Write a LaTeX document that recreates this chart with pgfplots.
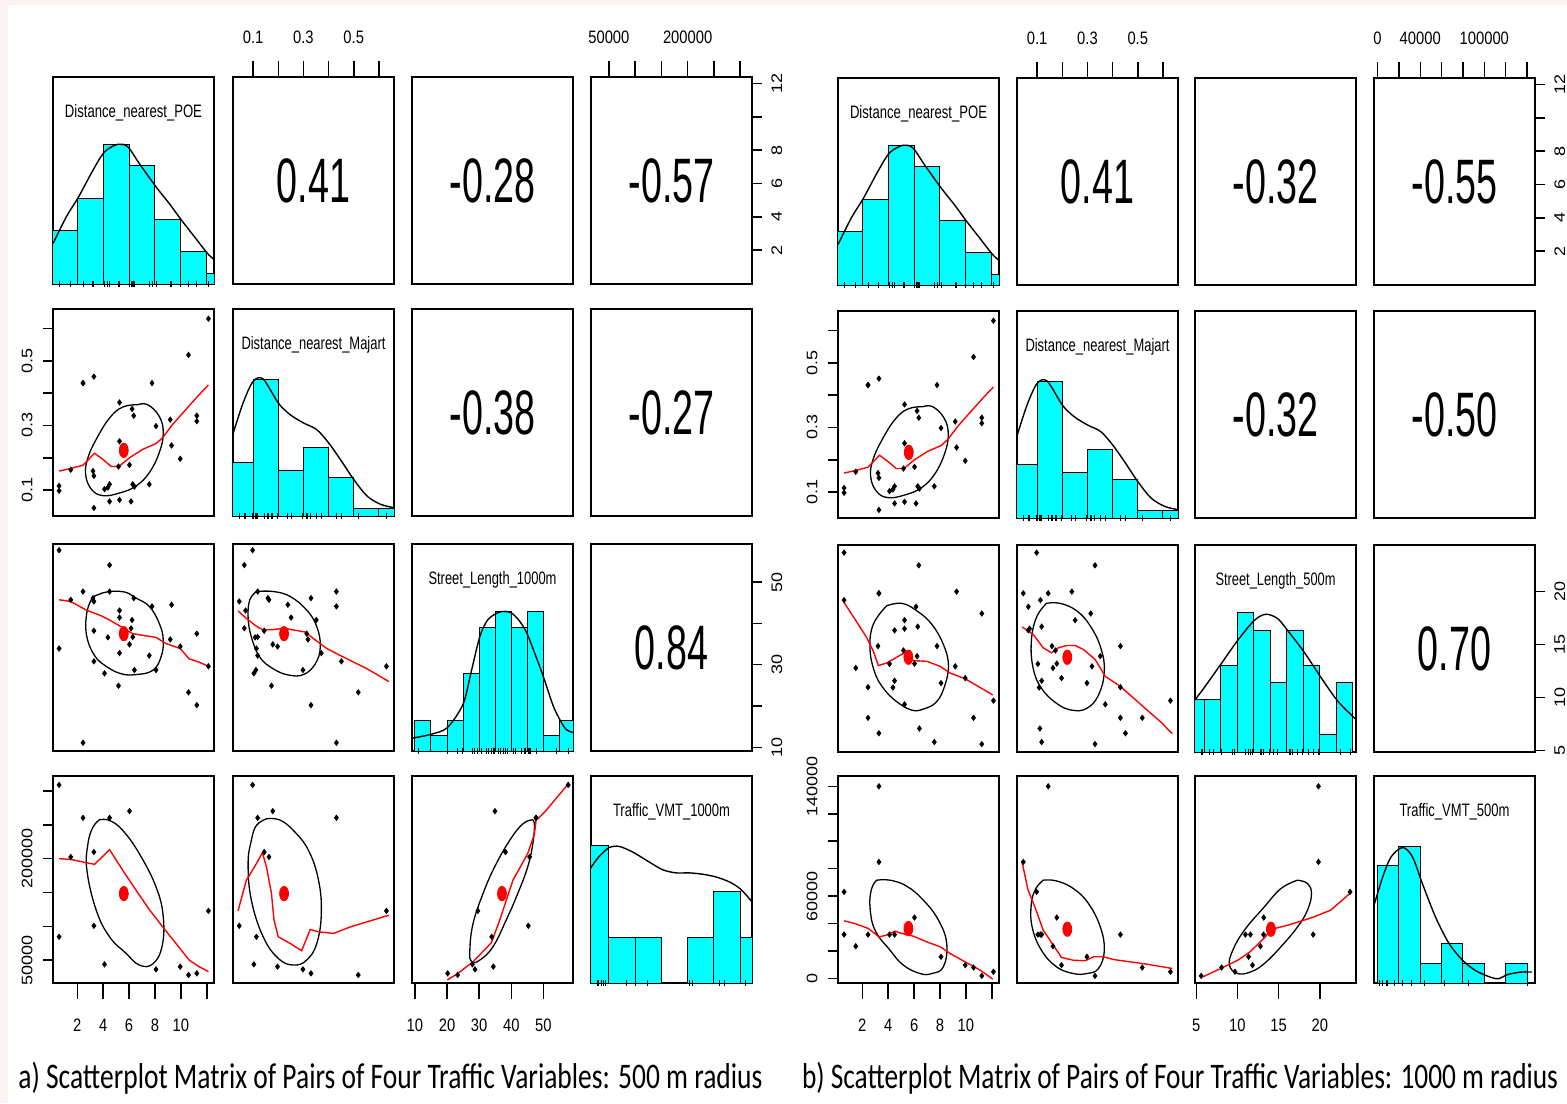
\documentclass[border=0pt]{standalone}
\usepackage{fontspec}
\setmainfont{Liberation Sans}
\newfontfamily\calib{Carlito}
\usepackage{pgfplots}
\usepackage{pgfplotstable}
\pgfplotsset{compat=1.18}
\definecolor{bgpink}{RGB}{252,244,242}
\definecolor{histc}{RGB}{0,255,255}
\newcommand\tickfont{\fontsize{9}{10}\selectfont}
\newcommand\tkl[1]{\scalebox{0.82}[1]{#1}}
\newcommand\tlv[1]{\scalebox{1}[0.85]{#1}}
\newcommand\corr[1]{\fontsize{31.4}{32}\selectfont\scalebox{0.6}[1]{#1}}
\newcommand\diag[2]{\resizebox{#1}{\height}{\fontsize{9}{10}\selectfont #2}}

\pgfplotstableread{
V1 V2 V3 V4 S5 T5
12.13 0.630 29.6 122800 9.70 4900
10.59 0.518 23.3 27900 8.08 8000
2.44 0.431 47.7 260600 10.97 32000
2.44 0.431 11.1 nan 8.08 nan
3.28 0.451 30.8 nan 6.62 nan
7.77 0.431 44.1 nan 14.85 nan
5.26 0.371 32.8 nan 9.35 nan
6.23 0.351 40.8 nan 13.90 nan
6.36 0.330 46.1 nan 22.48 nan
8.08 0.298 28.7 36200 11.36 15800
9.18 0.318 36.1 nan 12.94 nan
11.23 0.330 20.2 30300 5.60 1900
11.23 0.313 37.5 nan 17.93 nan
5.26 0.251 41.4 nan 17.30 nan
9.28 0.238 44.5 nan 20.00 nan
9.95 0.197 34.4 40200 11.83 9700
6.03 0.178 34.9 270500 13.20 44400
5.18 0.173 24.9 nan 14.44 nan
1.49 0.163 45.7 202600 12.79 23500
3.21 0.159 46.1 nan 14.85 nan
3.28 0.144 38.2 209900 19.84 140000
0.59 0.113 33.9 84400 19.20 32000
0.59 0.098 57.7 309300 23.68 63100
4.49 0.118 47.7 260600 11.58 32000
4.36 0.108 36.6 nan 10.94 nan
4.10 0.103 27.9 43600 13.17 32000
6.28 0.118 36.7 nan 16.69 nan
6.41 0.111 28.7 nan 7.07 nan
7.56 0.118 32.2 nan 5.79 nan
3.28 0.045 45.3 100700 19.84 84900
4.49 0.065 54.1 nan 16.34 nan
5.26 0.070 43.1 nan 16.50 nan
6.15 0.065 38.8 nan 18.57 nan
}\tabD

\pgfplotsset{
  cell/.style 2 args={at={({#1*0.5pt},{-#2*0.5pt})}, anchor=north west, scale only axis,
    width=80.5pt, height=103.5pt, xtick=\empty, ytick=\empty,
    axis line style={line width=0.75pt}, tick align=outside,
    tick style={black, line width=0.75pt}, scaled ticks=false, clip=true},
  V1x/.style={xmin=0.12,xmax=12.56}, V1y/.style={ymin=-0.04,ymax=12.4},
  V2x/.style={xmin=0.02,xmax=0.66}, V2y/.style={ymin=0.02,ymax=0.66},
  V3x/.style={xmin=9.1,xmax=59.2}, V3y/.style={ymin=9.1,ymax=59.2},
  V4x/.style={xmin=16000,xmax=322500}, V4y/.style={ymin=16000,ymax=322500},
  S5x/.style={xmin=4.85,xmax=24.4}, S5y/.style={ymin=4.85,ymax=24.4},
  T5x/.style={xmin=-3300,xmax=147500}, T5y/.style={ymin=-3300,ymax=147500},
  topx/.style={xtick pos=right, xticklabel pos=right, major tick length=8pt,
    xticklabel style={font=\tickfont, inner sep=0pt, anchor=south}, xticklabel shift=8.5pt},
  botx/.style={xtick pos=left, xticklabel pos=left, major tick length=8pt,
    xticklabel style={font=\tickfont, inner sep=0pt, anchor=north}, xticklabel shift=10pt},
  lefty/.style={ytick pos=left, yticklabel pos=left, major tick length=5pt,
    yticklabel style={font=\tickfont, inner sep=0pt, rotate=90, anchor=south}, yticklabel shift=5pt},
  righty/.style={ytick pos=right, yticklabel pos=right, major tick length=5pt,
    yticklabel style={font=\tickfont, inner sep=0pt, rotate=90, anchor=north}, yticklabel shift=4.5pt},
  pts/.style={only marks, mark=diamond*, mark size=1.3pt, black},
  lo/.style={red, line width=0.7pt},
  ell/.style={black, line width=0.65pt, smooth, tension=0.7},
  mn/.style={only marks, mark=*, mark size=3.6pt, red, mark options={xscale=0.62}},
  hbar/.style={ybar interval, fill=histc, draw=black, line width=0.5pt},
  dens/.style={black, line width=0.7pt, smooth},
  rug/.style={only marks, mark=|, mark size=1.6pt, black, line width=0.5pt},
}

\begin{document}
\begin{tikzpicture}
\fill[bgpink] (0,0) rectangle (783.5pt,-551.5pt);
\fill[white] (4pt,-2.5pt) rectangle (783.5pt,-551.5pt);
\useasboundingbox (0,0) rectangle (783.5pt,-551.5pt);

%================ LEFT PANEL ================
% (1,1)
\begin{axis}[cell={53}{77}, V1x, ymin=0, ymax=19.26]
\addplot[hbar] coordinates {(0,5)(2,8)(4,13)(6,11)(8,6)(10,3)(12,1)(14,1)};
\addplot[dens] coordinates {(0.13,3.78)(1.15,6.25)(2.10,8.11)(3.21,10.59)(4.10,12.29)(5.13,13.0)(5.90,12.76)(6.79,11.21)(8.08,9.04)(9.10,7.49)(10.05,5.94)(11.15,4.24)(12.05,2.85)(12.56,2.29)};
\addplot[rug] table[x=V1, y expr=0] {\tabD};
\node at (rel axis cs:0.5,0.825) {\diag{68.5pt}{Distance\_nearest\_POE}};
\end{axis}
% (1,2)
\begin{axis}[cell={233}{77}, V2x, V1y, topx, xtick={0.1,0.2,0.3,0.4,0.5,0.6}, xticklabels={\tkl{0.1},,\tkl{0.3},,\tkl{0.5},}]
\node at (rel axis cs:0.5,0.5) {\corr{0.41}};
\end{axis}
% (1,3)
\begin{axis}[cell={412}{77}, xmin=0, xmax=1, ymin=0, ymax=1]
\node at (rel axis cs:0.5,0.5) {\corr{-0.28}};
\end{axis}
% (1,4)
\begin{axis}[cell={591}{77}, V4x, V1y, topx, xtick={50000,100000,150000,200000,250000,300000}, xticklabels={\tkl{50000},,,\tkl{200000},,}]
\node at (rel axis cs:0.5,0.5) {\corr{-0.57}};
\end{axis}
\begin{axis}[cell={591}{77}, V4x, V1y, righty, ytick={2,4,6,8,10,12}, yticklabels={\tlv{2},\tlv{4},\tlv{6},\tlv{8},,\tlv{12}}]
\end{axis}
% (2,1)
\begin{axis}[cell={53}{309}, V1x, V2y, lefty, ytick={0.1,0.2,0.3,0.4,0.5,0.6}, yticklabels={\tlv{0.1},,\tlv{0.3},,\tlv{0.5},}]
\addplot[pts] table[x=V1, y=V2] {\tabD};
\addplot[ell] coordinates {(6.67,0.364)(7.44,0.364)(8.33,0.328)(8.64,0.277)(8.33,0.216)(7.56,0.154)(6.54,0.113)(5.26,0.091)(3.97,0.083)(3.08,0.103)(2.64,0.149)(2.82,0.200)(3.46,0.257)(4.49,0.323)(5.51,0.357)(6.67,0.364)};
\addplot[lo] coordinates {(0.59,0.159)(1.49,0.167)(2.44,0.177)(3.33,0.214)(3.97,0.195)(4.62,0.173)(5.21,0.173)(6.03,0.200)(7.05,0.226)(8.08,0.244)(8.59,0.262)(9.36,0.303)(10.38,0.349)(11.41,0.395)(12.13,0.425)};
\addplot[mn] coordinates {(5.59,0.223)};
\end{axis}
% (2,2)
\begin{axis}[cell={233}{309}, V2x, ymin=0, ymax=27.2]
\addplot[hbar] coordinates {(0,7)(0.1,18)(0.2,6)(0.3,9)(0.4,5)(0.5,1)(0.6,1)(0.7,1)};
\addplot[dens] coordinates {(0.017,10.48)(0.06,14.85)(0.10,17.69)(0.14,17.99)(0.20,14.85)(0.247,13.32)(0.30,12.23)(0.353,11.35)(0.40,9.61)(0.447,7.42)(0.50,4.80)(0.553,2.62)(0.607,1.53)(0.66,1.09)};
\addplot[rug] table[x=V2, y expr=0] {\tabD};
\node at (rel axis cs:0.5,0.825) {\diag{72pt}{Distance\_nearest\_Majart}};
\end{axis}
% (2,3)
\begin{axis}[cell={412}{309}, xmin=0, xmax=1, ymin=0, ymax=1]
\node at (rel axis cs:0.5,0.5) {\corr{-0.38}};
\end{axis}
% (2,4)
\begin{axis}[cell={591}{309}, xmin=0, xmax=1, ymin=0, ymax=1]
\node at (rel axis cs:0.5,0.5) {\corr{-0.27}};
\end{axis}
% (3,1)
\begin{axis}[cell={53}{544}, V1x, V3y]
\addplot[pts] table[x=V1, y=V3] {\tabD};
\addplot[ell] coordinates {(4.49,47.7)(5.64,47.6)(6.54,46.1)(7.56,44.1)(8.33,40.0)(8.64,35.9)(8.46,31.8)(7.82,28.6)(6.54,27.6)(5.38,27.8)(4.23,29.6)(3.33,32.2)(2.74,36.7)(2.69,41.6)(3.08,45.7)(3.72,47.1)(4.49,47.7)};
\addplot[lo] coordinates {(0.59,45.7)(1.49,45.3)(2.69,43.2)(3.72,42.0)(4.49,40.8)(5.59,38.8)(6.28,37.5)(7.05,37.1)(8.08,36.6)(8.85,35.1)(9.95,33.9)(10.64,31.4)(11.41,30.6)(12.13,29.6)};
\addplot[mn] coordinates {(5.59,37.5)};
\end{axis}
% (3,2)
\begin{axis}[cell={233}{544}, V2x, V3y]
\addplot[pts] table[x=V2, y=V3] {\tabD};
\addplot[ell] coordinates {(0.113,47.7)(0.18,47.7)(0.247,46.5)(0.313,43.2)(0.353,39.2)(0.367,34.3)(0.347,30.2)(0.30,27.6)(0.24,27.5)(0.18,29.0)(0.127,31.8)(0.093,36.7)(0.08,41.6)(0.087,45.7)(0.113,47.7)};
\addplot[lo] coordinates {(0.04,43.0)(0.073,41.2)(0.113,39.3)(0.14,38.4)(0.18,38.5)(0.223,38.8)(0.26,38.4)(0.307,37.9)(0.34,36.3)(0.393,33.9)(0.447,32.2)(0.50,30.6)(0.553,29.0)(0.64,25.9)};
\addplot[mn] coordinates {(0.223,37.5)};
\end{axis}
% (3,3)
\begin{axis}[cell={412}{544}, V3x, ymin=0, ymax=13.4]
\addplot[hbar] coordinates {(10,2)(15,1)(20,2)(25,5)(30,8)(35,9)(40,8)(45,9)(50,1)(55,2)(60,2)};
\addplot[dens] coordinates {(9.17,0.83)(15.17,1.09)(20.13,1.52)(25.0,3.04)(27.6,5.2)(30.2,7.4)(32.7,8.5)(36.4,9.0)(39.8,8.96)(42.6,8.4)(44.9,7.6)(47.7,6.1)(50.0,4.8)(52.9,3.0)(55.0,2.07)(57.0,1.41)(59.1,1.2)};
\addplot[rug] table[x=V3, y expr=0] {\tabD};
\node at (rel axis cs:0.5,0.825) {\diag{64pt}{Street\_Length\_1000m}};
\end{axis}
% (3,4)
\begin{axis}[cell={591}{544}, xmin=0, xmax=1, V3y, righty, ytick={10,20,30,40,50}, yticklabels={\tlv{10},,\tlv{30},,\tlv{50}}]
\node at (rel axis cs:0.5,0.5) {\corr{0.84}};
\end{axis}
% (4,1)
\begin{axis}[cell={53}{776}, V1x, V4y, botx, xtick={2,4,6,8,10,12}, xticklabels={\tkl{2},\tkl{4},\tkl{6},\tkl{8},\tkl{10},}]
\addplot[pts] table[x=V1, y=V4] {\tabD};
\addplot[ell] coordinates {(3.72,257700)(4.49,256700)(5.51,241900)(6.79,207500)(8.08,158300)(8.64,114000)(8.54,69700)(7.82,44100)(6.79,42600)(5.77,59800)(4.49,84400)(3.46,123800)(2.74,182900)(2.82,222200)(3.21,246800)(3.72,257700)};
\addplot[lo] coordinates {(0.59,200100)(1.49,199100)(2.44,195200)(3.33,191700)(4.49,213400)(5.51,182900)(6.54,153300)(7.56,124800)(8.59,99200)(9.62,74600)(10.64,50000)(11.41,40200)(12.13,32800)};
\addplot[mn] coordinates {(5.59,148400)};
\end{axis}
\begin{axis}[cell={53}{776}, V1x, V4y, lefty, ytick={50000,100000,150000,200000,250000,300000}, yticklabels={\tlv{50000},,,\tlv{200000},,}]
\end{axis}
% (4,2)
\begin{axis}[cell={233}{776}, V2x, V4y]
\addplot[pts] table[x=V2, y=V4] {\tabD};
\addplot[ell] coordinates {(0.153,259100)(0.204,257700)(0.26,241900)(0.32,212400)(0.36,168100)(0.371,118900)(0.353,74600)(0.313,50000)(0.26,42600)(0.20,52500)(0.14,84400)(0.093,138600)(0.08,192700)(0.093,227200)(0.113,249300)(0.153,259100)};
\addplot[lo] coordinates {(0.04,122800)(0.073,168100)(0.113,192700)(0.137,208900)(0.153,187800)(0.173,148400)(0.183,109100)(0.20,84400)(0.247,74600)(0.293,63800)(0.327,95300)(0.36,91800)(0.42,89400)(0.487,99200)(0.553,106600)(0.64,116400)};
\addplot[mn] coordinates {(0.223,148400)};
\end{axis}
% (4,3)
\begin{axis}[cell={412}{776}, V3x, V4y, botx, xtick={10,20,30,40,50}, xticklabels={\tkl{10},\tkl{20},\tkl{30},\tkl{40},\tkl{50}}]
\addplot[pts] table[x=V3, y=V4] {\tabD};
\addplot[ell] coordinates {(46.7,257700)(47.2,249300)(46.7,222200)(45.1,187800)(42.0,148400)(38.4,109100)(34.3,69700)(30.2,50000)(27.6,47500)(27.1,64800)(28.1,104100)(31.2,148400)(34.8,187800)(39.5,227200)(43.6,251700)(46.7,257700)};
\addplot[lo] coordinates {(20.1,20500)(23.4,30300)(28.1,47500)(33.8,75600)(36.4,109100)(40.5,168100)(45.1,207500)(47.2,237000)(47.7,256700)(50.8,271400)(57.3,308400)};
\addplot[mn] coordinates {(37.1,148400)};
\end{axis}
% (4,4)
\begin{axis}[cell={591}{776}, V4x, ymin=0, ymax=4.53]
\addplot[hbar] coordinates {(0,3)(50000,1)(100000,1)(150000,0)(200000,1)(250000,2)(300000,1)(350000,1)};
\addplot[dens] coordinates {(13600,2.49)(30800,2.76)(50000,2.96)(69200,2.99)(94700,2.87)(126600,2.65)(152200,2.48)(177700,2.41)(203300,2.41)(228800,2.38)(254300,2.32)(279900,2.21)(299000,2.07)(315000,1.88)(322700,1.77)};
\addplot[rug] table[x=V4, y expr=0] {\tabD};
\node at (rel axis cs:0.5,0.825) {\diag{58.5pt}{Traffic\_VMT\_1000m}};
\end{axis}

%================ RIGHT PANEL ================
% (1,1)
\begin{axis}[cell={838}{78}, V1x, ymin=0, ymax=19.26]
\addplot[hbar] coordinates {(0,5)(2,8)(4,13)(6,11)(8,6)(10,3)(12,1)(14,1)};
\addplot[dens] coordinates {(0.13,3.78)(1.15,6.25)(2.10,8.11)(3.21,10.59)(4.10,12.29)(5.13,13.0)(5.90,12.76)(6.79,11.21)(8.08,9.04)(9.10,7.49)(10.05,5.94)(11.15,4.24)(12.05,2.85)(12.56,2.29)};
\addplot[rug] table[x=V1, y expr=0] {\tabD};
\node at (rel axis cs:0.5,0.825) {\diag{68.5pt}{Distance\_nearest\_POE}};
\end{axis}
% (1,2)
\begin{axis}[cell={1017}{78}, V2x, V1y, topx, xtick={0.1,0.2,0.3,0.4,0.5,0.6}, xticklabels={\tkl{0.1},,\tkl{0.3},,\tkl{0.5},}]
\node at (rel axis cs:0.5,0.5) {\corr{0.41}};
\end{axis}
% (1,3)
\begin{axis}[cell={1195}{78}, xmin=0, xmax=1, ymin=0, ymax=1]
\node at (rel axis cs:0.5,0.5) {\corr{-0.32}};
\end{axis}
% (1,4)
\begin{axis}[cell={1374}{78}, T5x, V1y, topx, xtick={0,20000,40000,60000,80000,100000,120000,140000}, xticklabels={\tkl{0},,\tkl{40000},,,\tkl{100000},,}]
\node at (rel axis cs:0.5,0.5) {\corr{-0.55}};
\end{axis}
\begin{axis}[cell={1374}{78}, T5x, V1y, righty, ytick={2,4,6,8,10,12}, yticklabels={\tlv{2},\tlv{4},\tlv{6},\tlv{8},,\tlv{12}}]
\end{axis}
% (2,1)
\begin{axis}[cell={838}{311}, V1x, V2y, lefty, ytick={0.1,0.2,0.3,0.4,0.5,0.6}, yticklabels={\tlv{0.1},,\tlv{0.3},,\tlv{0.5},}]
\addplot[pts] table[x=V1, y=V2] {\tabD};
\addplot[ell] coordinates {(6.67,0.364)(7.44,0.364)(8.33,0.328)(8.64,0.277)(8.33,0.216)(7.56,0.154)(6.54,0.113)(5.26,0.091)(3.97,0.083)(3.08,0.103)(2.64,0.149)(2.82,0.200)(3.46,0.257)(4.49,0.323)(5.51,0.357)(6.67,0.364)};
\addplot[lo] coordinates {(0.59,0.159)(1.49,0.167)(2.44,0.177)(3.33,0.214)(3.97,0.195)(4.62,0.173)(5.21,0.173)(6.03,0.200)(7.05,0.226)(8.08,0.244)(8.59,0.262)(9.36,0.303)(10.38,0.349)(11.41,0.395)(12.13,0.425)};
\addplot[mn] coordinates {(5.59,0.223)};
\end{axis}
% (2,2)
\begin{axis}[cell={1017}{311}, V2x, ymin=0, ymax=27.2]
\addplot[hbar] coordinates {(0,7)(0.1,18)(0.2,6)(0.3,9)(0.4,5)(0.5,1)(0.6,1)(0.7,1)};
\addplot[dens] coordinates {(0.017,10.48)(0.06,14.85)(0.10,17.69)(0.14,17.99)(0.20,14.85)(0.247,13.32)(0.30,12.23)(0.353,11.35)(0.40,9.61)(0.447,7.42)(0.50,4.80)(0.553,2.62)(0.607,1.53)(0.66,1.09)};
\addplot[rug] table[x=V2, y expr=0] {\tabD};
\node at (rel axis cs:0.5,0.825) {\diag{72pt}{Distance\_nearest\_Majart}};
\end{axis}
% (2,3)
\begin{axis}[cell={1195}{311}, xmin=0, xmax=1, ymin=0, ymax=1]
\node at (rel axis cs:0.5,0.5) {\corr{-0.32}};
\end{axis}
% (2,4)
\begin{axis}[cell={1374}{311}, xmin=0, xmax=1, ymin=0, ymax=1]
\node at (rel axis cs:0.5,0.5) {\corr{-0.50}};
\end{axis}
% (3,1)
\begin{axis}[cell={838}{545}, V1x, S5y]
\addplot[pts] table[x=V1, y=S5] {\tabD};
\addplot[ell] coordinates {(3.88,18.66)(5.04,18.89)(6.20,18.19)(7.36,16.92)(8.26,15.01)(8.65,13.10)(8.39,11.20)(7.75,9.61)(6.72,8.91)(5.81,8.81)(4.65,9.61)(3.62,10.88)(2.93,12.47)(2.59,14.69)(2.85,16.92)(3.88,18.66)};
\addplot[lo] coordinates {(0.58,18.98)(1.43,17.39)(2.34,15.65)(2.85,14.37)(3.24,13.01)(3.88,13.26)(4.65,13.80)(5.25,14.22)(5.94,13.48)(6.97,13.42)(8.01,12.94)(8.78,12.31)(9.94,11.77)(11.10,10.94)(12.08,10.24)};
\addplot[mn] coordinates {(5.56,13.80)};
\end{axis}
% (3,2)
\begin{axis}[cell={1017}{545}, V2x, S5y]
\addplot[pts] table[x=V2, y=S5] {\tabD};
\addplot[ell] coordinates {(0.137,18.89)(0.191,18.89)(0.257,18.19)(0.311,16.76)(0.353,14.69)(0.367,12.47)(0.344,10.24)(0.297,8.97)(0.237,8.81)(0.177,9.45)(0.117,10.88)(0.084,12.79)(0.077,15.33)(0.097,17.55)(0.137,18.89)};
\addplot[lo] coordinates {(0.041,16.66)(0.084,15.96)(0.124,14.69)(0.157,14.22)(0.184,14.69)(0.217,14.91)(0.251,14.91)(0.284,14.53)(0.331,13.58)(0.371,11.99)(0.431,11.04)(0.484,9.93)(0.537,8.81)(0.591,7.70)(0.637,6.59)};
\addplot[mn] coordinates {(0.22,13.80)};
\end{axis}
% (3,3)
\begin{axis}[cell={1195}{545}, S5x, ymin=0, ymax=11.9]
\addplot[hbar] coordinates {(4,3)(6,3)(8,5)(10,8)(12,7)(14,4)(16,7)(18,5)(20,1)(22,4)(24,4)};
\addplot[dens] coordinates {(4.85,3.0)(6.0,3.72)(8.02,5.07)(10.04,6.42)(12.06,7.57)(13.47,7.92)(14.88,7.67)(16.09,6.99)(18.1,5.74)(20.12,4.30)(22.14,2.95)(24.15,1.98)(24.4,1.85)};
\addplot[rug] table[x=S5, y expr=0] {\tabD};
\node at (rel axis cs:0.5,0.825) {\diag{60pt}{Street\_Length\_500m}};
\end{axis}
% (3,4)
\begin{axis}[cell={1374}{545}, xmin=0, xmax=1, S5y, righty, ytick={5,10,15,20}, yticklabels={\tlv{5},\tlv{10},\tlv{15},\tlv{20}}]
\node at (rel axis cs:0.5,0.5) {\corr{0.70}};
\end{axis}
% (4,1)
\begin{axis}[cell={838}{776}, V1x, T5y, botx, xtick={2,4,6,8,10,12}, xticklabels={\tkl{2},\tkl{4},\tkl{6},\tkl{8},\tkl{10},}]
\addplot[pts] table[x=V1, y=T5] {\tabD};
\addplot[ell] coordinates {(3.11,71600)(4.14,71600)(5.43,67200)(6.72,57000)(7.88,42500)(8.52,25500)(8.26,8500)(7.36,3600)(6.46,3600)(5.17,9700)(4.14,20600)(2.98,35200)(2.59,52200)(2.72,65500)(3.11,71600)};
\addplot[lo] coordinates {(0.58,42000)(1.43,40000)(2.46,36400)(3.29,30300)(3.88,31600)(4.53,34500)(5.04,32800)(5.94,30800)(6.97,26700)(8.01,23100)(8.78,18200)(9.94,12100)(11.10,6100)(12.08,-500)};
\addplot[mn] coordinates {(5.56,36400)};
\end{axis}
\begin{axis}[cell={838}{776}, V1x, T5y, lefty, ytick={0,20000,40000,60000,80000,100000,120000,140000}, yticklabels={\tlv{0},,,\tlv{60000},,,,\tlv{140000}}]
\end{axis}
% (4,2)
\begin{axis}[cell={1017}{776}, V2x, T5y]
\addplot[pts] table[x=V2, y=T5] {\tabD};
\addplot[ell] coordinates {(0.124,71600)(0.177,71100)(0.244,65500)(0.304,54600)(0.351,37600)(0.367,20600)(0.344,7300)(0.297,3600)(0.244,3600)(0.177,8500)(0.117,20600)(0.08,37600)(0.077,54600)(0.095,65500)(0.124,71600)};
\addplot[lo] coordinates {(0.04,84900)(0.064,64300)(0.091,52200)(0.124,35200)(0.164,24300)(0.197,15300)(0.244,13300)(0.291,12900)(0.324,15800)(0.364,15800)(0.404,13800)(0.471,12100)(0.537,10400)(0.637,7300)};
\addplot[mn] coordinates {(0.22,35900)};
\end{axis}
% (4,3)
\begin{axis}[cell={1195}{776}, S5x, T5y, botx, xtick={5,10,15,20}, xticklabels={\tkl{5},\tkl{10},\tkl{15},\tkl{20}}]
\addplot[pts] table[x=S5, y=T5] {\tabD};
\addplot[ell] coordinates {(17.30,71600)(18.51,69200)(18.99,61900)(18.51,49800)(17.30,37600)(15.28,23100)(13.27,10900)(11.65,4900)(10.04,3600)(9.03,9700)(9.44,20600)(10.85,35200)(13.27,52200)(15.28,65500)(17.30,71600)};
\addplot[lo] coordinates {(5.81,1200)(8.23,8000)(10.04,13300)(11.53,19400)(13.39,30300)(14.07,35700)(16.09,38800)(18.10,42500)(19.31,44900)(21.33,49800)(23.87,63100)};
\addplot[mn] coordinates {(14.07,35900)};
\end{axis}
% (4,4)
\begin{axis}[cell={1374}{776}, T5x, ymin=0, ymax=10.6]
\addplot[hbar] coordinates {(0,6)(20000,7)(40000,1)(60000,2)(80000,1)(100000,0)(120000,1)(140000,1)};
\addplot[dens] coordinates {(-3700,3.90)(4900,5.44)(12700,6.46)(23500,6.94)(32700,6.46)(42000,5.09)(54300,3.38)(66700,2.05)(79000,1.20)(91400,0.65)(103700,0.34)(113000,0.22)(122200,0.44)(134600,0.56)(144400,0.56)};
\addplot[rug] table[x=T5, y expr=0] {\tabD};
\node at (rel axis cs:0.5,0.825) {\diag{55pt}{Traffic\_VMT\_500m}};
\end{axis}

% captions
\node[anchor=base west, inner sep=0pt] at (9pt,-544pt) {\resizebox{372pt}{\height}{\calib\fontsize{18}{20}\selectfont a) Scatterplot Matrix of Pairs of Four Traffic Variables: 500 m radius}};
\node[anchor=base west, inner sep=0pt] at (400.8pt,-544pt) {\resizebox{378pt}{\height}{\calib\fontsize{18}{20}\selectfont b) Scatterplot Matrix of Pairs of Four Traffic Variables: 1000 m radius}};
\end{tikzpicture}
\end{document}
